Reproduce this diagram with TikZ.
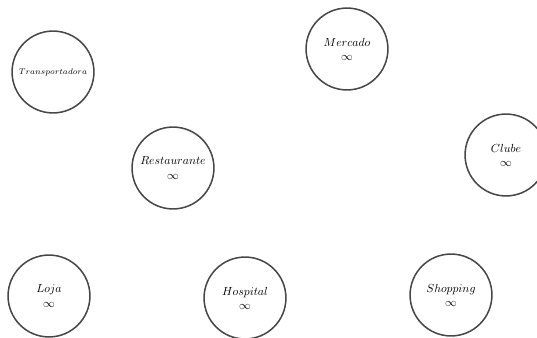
\documentclass[tikz,border=0pt]{standalone}
\usepackage{amsmath,amssymb}
\usepackage{tikz}
\usetikzlibrary{positioning}

\begin{document}
\begin{tikzpicture}[x=0.855pt, y=-0.855pt,
    local/.style={circle, draw=black!72, line width=1.3pt, minimum size=70pt, inner sep=0pt, align=center}]
    \useasboundingbox (0,0) rectangle (537,338);
    \node[local, font=\scriptsize] (transportadora) at (53,72) {$Transportadora$};
    \node[local] (mercado) at (347,49) {$Mercado$\\$\infty$};
    \node[local] (restaurante) at (173,168) {$Restaurante$\\$\infty$};
    \node[local] (clube) at (506,155) {$Clube$\\$\infty$};
    \node[local] (loja) at (49,296) {$Loja$\\$\infty$};
    \node[local] (hospital) at (245,298) {$Hospital$\\$\infty$};
    \node[local] (shopping) at (451,295) {$Shopping$\\$\infty$};
\end{tikzpicture}
\end{document}
